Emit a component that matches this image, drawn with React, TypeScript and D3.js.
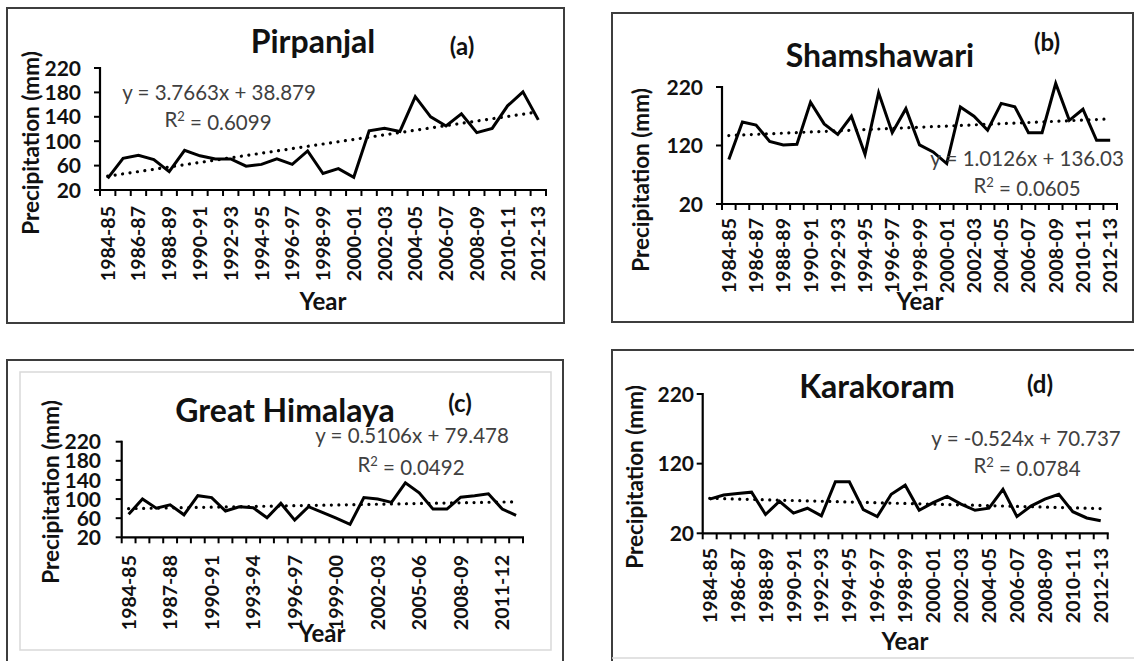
import React from "react";
import * as d3 from "d3";

const categories = [
  "1984-85","1985-86","1986-87","1987-88","1988-89","1989-90","1990-91","1991-92","1992-93","1993-94",
  "1994-95","1995-96","1996-97","1997-98","1998-99","1999-00","2000-01","2001-02","2002-03","2003-04",
  "2004-05","2005-06","2006-07","2007-08","2008-09","2009-10","2010-11","2011-12","2012-13",
];

const pirpanjal = [39,72,77,70,50,85,76,71,71,59,62,71,62,84,47,55,41,117,121,116,173,140,125,145,114,121,158,181,135];
const shamshawari = [96,160,155,127,121,122,194,157,139,170,105,210,142,183,121,109,89,186,170,146,192,186,142,142,226,163,182,129,129];
const greatHimalaya = [68,100,81,88,67,107,103,75,84,82,61,91,56,84,72,60,47,103,100,93,134,113,79,79,104,107,111,79,66];
const karakoram = [69,75,77,79,47,66,49,56,45,94,94,54,44,76,89,53,64,73,62,53,56,83,44,59,69,76,51,42,38];

const trendSlopes = [3.7663, 1.0126, 0.5106, -0.524];
const trendIntercepts = [38.879, 136.03, 79.478, 70.737];
const equations = ["y = 3.7663x + 38.879", "y = 1.0126x + 136.03", "y = 0.5106x + 79.478", "y = -0.524x + 70.737"];
const rSquared = ["0.6099", "0.0605", "0.0492", "0.0784"];
const titles = ["Pirpanjal", "Shamshawari", "Great Himalaya", "Karakoram"];
const panelTags = ["(a)", "(b)", "(c)", "(d)"];
const yTicksA = [20, 60, 100, 140, 180, 220];
const yTicksB = [20, 120, 220];

const FONT = "Lato, 'Open Sans', sans-serif";
const INK = "#111";

type Layout = {
  x0: number; x1: number; yTop: number; yBot: number;
  ticks: number[]; labelEvery: number; labelRight: number; xLabTop: number;
  title: [number, number]; tag: [number, number]; eq: [number, number]; r2: [number, number];
  year: [number, number]; ylab: [number, number];
};

const layouts: Layout[] = [
  { x0: 100, x1: 546, yTop: 68, yBot: 190, ticks: yTicksA, labelEvery: 2, labelRight: 81, xLabTop: 206,
    title: [313, 53], tag: [462, 55], eq: [219, 100], r2: [218, 127], year: [323, 310], ylab: [31, 143] },
  { x0: 722, x1: 1117, yTop: 87, yBot: 204, ticks: yTicksB, labelEvery: 2, labelRight: 703, xLabTop: 218,
    title: [880, 67], tag: [1047, 51], eq: [1027, 166], r2: [1027, 193], year: [920, 310], ylab: [641, 180] },
  { x0: 121.7, x1: 523, yTop: 441.7, yBot: 537.3, ticks: yTicksA, labelEvery: 3, labelRight: 101, xLabTop: 555,
    title: [285, 422], tag: [460, 412], eq: [412, 443], r2: [411, 472], year: [322, 642], ylab: [51, 492] },
  { x0: 702.7, x1: 1107.7, yTop: 394, yBot: 533.3, ticks: yTicksB, labelEvery: 2, labelRight: 694, xLabTop: 548,
    title: [877, 398], tag: [1040, 393], eq: [1026, 446], r2: [1027, 473], year: [905, 650], ylab: [635, 477] },
];

const seriesList = [pirpanjal, shamshawari, greatHimalaya, karakoram];

function Panel({ idx }: { idx: number }) {
  const L = layouts[idx];
  const data = seriesList[idx];
  const x = d3.scaleBand<string>().domain(categories).range([L.x0, L.x1]).padding(0);
  const y = d3.scaleLinear().domain([20, 220]).range([L.yBot, L.yTop]);
  const bw = x.bandwidth();
  const cx = (c: string) => (x(c) as number) + bw / 2;
  const line = d3.line<number>().x((_, i) => cx(categories[i])).y((v) => y(v));
  const n = categories.length;
  const tA = trendSlopes[idx] * 1 + trendIntercepts[idx];
  const tB = trendSlopes[idx] * n + trendIntercepts[idx];
  const boundaries = d3.range(n + 1).map((i) => L.x0 + i * bw);
  return (
    <g>
      <line x1={cx(categories[0])} y1={y(tA)} x2={cx(categories[n - 1])} y2={y(tB)}
        stroke="#000" strokeWidth={3.2} strokeDasharray="0.01 7.5" strokeLinecap="round" />
      <path d={line(data) || ""} fill="none" stroke="#000" strokeWidth={3} strokeLinejoin="miter" />
      <line x1={L.x0} y1={L.yTop - 1} x2={L.x0} y2={L.yBot} stroke="#000" strokeWidth={2.2} />
      <line x1={L.x0} y1={L.yBot} x2={L.x1 + 1} y2={L.yBot} stroke="#000" strokeWidth={2.2} />
      {L.ticks.map((t) => (
        <g key={"yt" + t}>
          <line x1={L.x0 - 6} x2={L.x0} y1={y(t)} y2={y(t)} stroke="#000" strokeWidth={2} />
          <text x={L.labelRight} y={y(t)} dy="0.36em" textAnchor="end" fontFamily={FONT}
            fontWeight={700} fontSize={21} fill={INK}>{t}</text>
        </g>
      ))}
      {boundaries.map((b, i) => (
        <line key={"xt" + i} x1={b} x2={b} y1={L.yBot} y2={L.yBot + 6} stroke="#000" strokeWidth={2} />
      ))}
      {categories.map((c, i) =>
        i % L.labelEvery === 0 ? (
          <text key={"xl" + c} transform={`translate(${cx(c)},${L.xLabTop}) rotate(-90)`} dy="0.36em"
            textAnchor="end" fontFamily={FONT} fontWeight={700} fontSize={19.5} fill={INK}>{c}</text>
        ) : null
      )}
      <text x={L.title[0]} y={L.title[1]} textAnchor="middle" fontFamily={FONT} fontWeight={700}
        fontSize={32} fill={INK}>{titles[idx]}</text>
      <text x={L.tag[0]} y={L.tag[1]} textAnchor="middle" fontFamily={FONT} fontWeight={700}
        fontSize={24} fill={INK}>{panelTags[idx]}</text>
      <text x={L.eq[0]} y={L.eq[1]} textAnchor="middle" fontFamily={FONT} fontSize={20.5}
        fill="#404040">{equations[idx]}</text>
      <text x={L.r2[0]} y={L.r2[1]} textAnchor="middle" fontFamily={FONT} fontSize={20.5} fill="#404040">
        R<tspan dy="-0.45em" fontSize={13}>2</tspan><tspan dy="0.45em"> = {rSquared[idx]}</tspan>
      </text>
      <text x={L.year[0]} y={L.year[1]} textAnchor="middle" fontFamily={FONT} fontWeight={700}
        fontSize={24} fill={INK}>Year</text>
      <text transform={`translate(${L.ylab[0]},${L.ylab[1]}) rotate(-90)`} dy="0.36em" textAnchor="middle"
        fontFamily={FONT} fontWeight={700} fontSize={22.5} fill={INK}>Precipitation (mm)</text>
    </g>
  );
}

export default function App() {
  return (
    <svg width={1134} height={661} style={{ position: "absolute", left: 0, top: 0, background: "#fff" }}>
      <rect x={0} y={0} width={1134} height={661} fill="#fff" />
      <rect x={7} y={8} width={557} height={315} fill="none" stroke="#3d3d3d" strokeWidth={2} />
      <rect x={612} y={13} width={521} height={309} fill="none" stroke="#3d3d3d" strokeWidth={2} />
      <rect x={7} y={360} width={556} height={330} fill="none" stroke="#3d3d3d" strokeWidth={2} />
      <rect x={20} y={372} width={531} height={278} fill="none" stroke="#d9d9d9" strokeWidth={1.5} />
      <rect x={612} y={350} width={540} height={340} fill="none" stroke="#3d3d3d" strokeWidth={2} />
      <line x1={612} x2={1134} y1={658} y2={658} stroke="#d9d9d9" strokeWidth={1.5} />
      {[0, 1, 2, 3].map((i) => <Panel key={i} idx={i} />)}
    </svg>
  );
}
